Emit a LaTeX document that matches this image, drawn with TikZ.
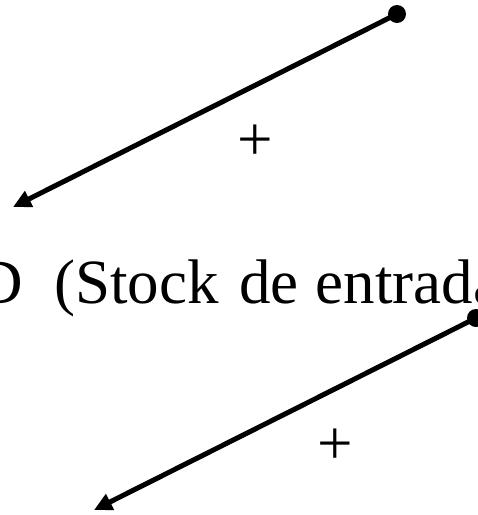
\documentclass[tikz,border=0pt]{standalone}
\usepackage{fontspec}
\setmainfont{Liberation Serif}
\usetikzlibrary{arrows.meta}
\begin{document}
\begin{tikzpicture}[x=1pt,y=-1pt,
  dotnode/.style={circle,fill=black,inner sep=0pt,minimum size=18pt},
  link/.style={line width=5pt,-{Triangle[length=18pt,width=17pt]}},
  lbl/.style={font=\fontsize{63}{70}\selectfont,inner sep=0pt}]
\useasboundingbox (0,0) rectangle (478,515);
\clip (0,0) rectangle (478,515);
% first link
\node[dotnode] (d1) at (397,14) {};
\coordinate (t1) at (13,207);
\draw[link] (d1.center) -- (t1);
\node[lbl] (p1) at (255,143) {+};
% stock label
\node[lbl,anchor=base west] (stock) at (-23,303) {D\hspace{31.5pt}(Stock\hspace{20.75pt}de\hspace{17pt}entrada};
% second link
\node[dotnode] (d2) at (476,318) {};
\coordinate (t2) at (94,510);
\draw[link] (d2.center) -- (t2);
\node[lbl] (p2) at (335,447) {+};
\end{tikzpicture}
\end{document}
